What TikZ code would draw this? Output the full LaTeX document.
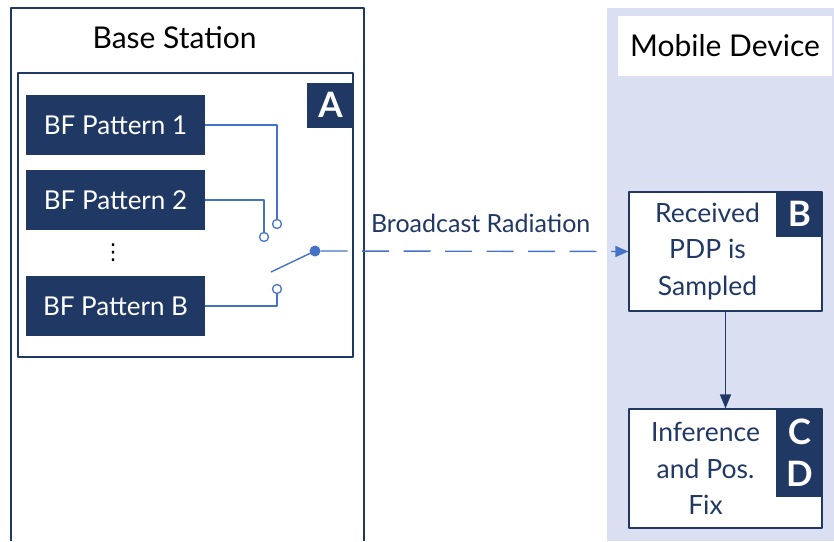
\documentclass[tikz,border=0pt]{standalone}
\usepackage{fontspec}
\setmainfont{Lato}
\newfontfamily\symfont{DejaVu Sans}
\usetikzlibrary{positioning,arrows.meta}
\definecolor{navy}{HTML}{203864}
\definecolor{wire}{HTML}{4472C4}
\definecolor{panel}{HTML}{DAE0F2}
\tikzset{
  pattern box/.style={fill=navy, text=white, minimum width=179pt, minimum height=60pt, inner sep=0pt, font=\fontsize{26}{30}\selectfont},
  tag/.style={fill=navy, text=white, inner sep=0pt, minimum width=46pt, minimum height=45pt, font=\fontsize{35}{36}\selectfont\bfseries},
  stage/.style={draw=navy, line width=1.2pt, fill=white, minimum width=193pt, minimum height=119pt, inner sep=0pt},
  stage text/.style={text=navy, align=center, font=\fontsize{26.5}{36.5}\selectfont},
  contact/.style={circle, draw=wire, line width=1.3pt, fill=white, minimum size=9pt, inner sep=0pt},
  pivot/.style={circle, fill=wire, minimum size=11pt, inner sep=0pt},
  wire line/.style={draw=wire, line width=1.4pt}
}
\begin{document}
\begin{tikzpicture}[x=1pt, y=-1pt, line join=round]
	\useasboundingbox (0,0) rectangle (834,541);
	% mobile side
	\fill[panel] (607,8) rectangle (834,541);
	\node[fill=white, minimum width=214pt, minimum height=60pt, inner sep=0pt, font=\fontsize{30}{34}\selectfont] (mobhead) at (725,46) {Mobile Device};
	% base station side
	\draw[navy, line width=1.2pt] (11,541) -- (11,8) -- (364,8) -- (364,541);
	\node[font=\fontsize{30}{34}\selectfont] (bshead) at (174.5,38) {Base Station};
	\node[draw=navy, line width=1.2pt, minimum width=335pt, minimum height=284pt, inner sep=0pt] (bank) at (185.5,215) {};
	\node[tag, anchor=north east] (tagA) at ([yshift=-10pt]bank.north east) {A};
	\node[pattern box] (p1) at (115.5,125) {BF Pattern 1};
	\node[pattern box] (p2) at (115.5,200) {BF Pattern 2};
	\node[pattern box] (pB) at (115.5,306) {BF Pattern B};
	\node[font=\symfont\fontsize{22}{24}\selectfont] (dots) at (113,253) {⋮};
	% switch
	\node[contact] (c1) at (277,224) {};
	\node[contact] (c2) at (264,237) {};
	\node[contact] (c3) at (277,289) {};
	\node[pivot] (pv) at (315,251) {};
	\coordinate (arm) at (271,272);
	\draw[wire line] (p1.east) -| (c1.north);
	\draw[wire line] (p2.east) -| (c2.north);
	\draw[wire line] (pB.east) -| (c3.south);
	\draw[wire line] (pv.center) -- (arm);
	% receiver
	\node[stage] (recv) at (725.5,251.5) {};
	\node[stage text] (recvtxt) at ([xshift=-18pt]recv.center) {Received\\PDP is\\Sampled};
	\node[tag, anchor=north east] (tagB) at (recv.north east) {B};
	\node[stage] (infer) at (725.5,468.5) {};
	\node[stage text] (infertxt) at ([xshift=-20pt]infer.center) {Inference\\and Pos.\\Fix};
	\node[tag, anchor=north east, minimum height=88pt, align=center, font=\fontsize{35}{42}\selectfont\bfseries] (tagCD) at (infer.north east) {C\\D};
	% links
	\draw[wire line, dash pattern=on 27pt off 14.5pt, -{Triangle[length=13pt,width=11pt]}] (pv.east) -- (recv.west) node[pos=0.52, yshift=28pt, text=navy, font=\fontsize{25}{28}\selectfont] (bcast) {Broadcast Radiation};
	\draw[navy, line width=1.5pt, -{Triangle[length=14pt,width=11pt]}] (recv.south) -- (infer.north);
\end{tikzpicture}
\end{document}
